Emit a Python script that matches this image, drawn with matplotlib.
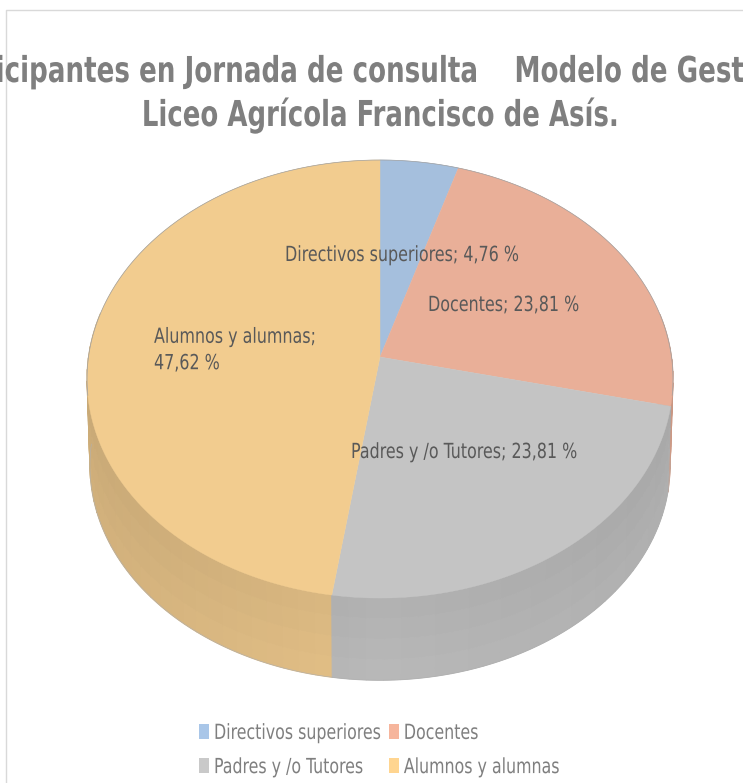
import matplotlib
matplotlib.use('Agg')
import matplotlib.pyplot as plt
from matplotlib.font_manager import FontProperties
from matplotlib.patches import Patch
from matplotlib.patheffects import AbstractPathEffect
from matplotlib.transforms import Affine2D
import numpy as np

categorias = ['Directivos superiores', 'Docentes', 'Padres y /o Tutores', 'Alumnos y alumnas']
valores = [4.76, 23.81, 23.81, 47.62]
etiquetas = ['Directivos superiores; 4,76 %', 'Docentes; 23,81 %',
             'Padres y /o Tutores; 23,81 %', 'Alumnos y alumnas;\n47,62 %']
colores = ['#A5BFDD', '#E9AF98', '#C4C4C4', '#F2CC8F']
colores_leyenda = ['#A9C6E8', '#F6B59C', '#C9C9C9', '#FFD590']
pos_etiquetas = [(285, 255), (428, 305), (351, 452), (154, 350)]

titulo1 = 'Participantes en Jornada de consulta    Modelo de Gestión'
titulo2 = 'Liceo Agrícola Francisco de Asís.'

cx, cy = 380, 357   # donde se juntan las tajadas
a, b, k = 291.5, 216.8, 0.1005   # perspectiva de la cara superior
prof = 87


class Angosto(AbstractPathEffect):
    # el grafico original esta comprimido a lo ancho
    def __init__(self, sx, centrado=False):
        super().__init__()
        self.sx = sx
        self.centrado = centrado

    def draw_path(self, renderer, gc, tpath, affine, rgbFace=None):
        c = 0
        if self.centrado:
            c = tpath.get_extents().x0 / 2 + tpath.get_extents().x1 / 2
        m = Affine2D().translate(-c, 0).scale(self.sx, 1).translate(c, 0)
        renderer.draw_path(gc, tpath, m + affine, rgbFace)


def arriba(t):
    # t en radianes, desde arriba en sentido horario
    u, v = np.sin(t), np.cos(t)
    w = 1 / (1 + k * v)
    return cx + a * u * w, cy - b * v * w


def abajo(t):
    u, v = np.sin(t), np.cos(t)
    w = 1 / (1 + k * v)
    return cx + 0.99 * a * u * w, cy + prof - 0.98 * b * v * w


def sombra(t):
    u = np.sin(t)
    if u < 0:
        return 0.91 + 0.08 * u
    return 0.91 - 0.05 * u


fig = plt.figure(figsize=(7.43, 7.83), dpi=100)
ax = fig.add_axes([0, 0, 1, 1])
ax.set_xlim(0, 743)
ax.set_ylim(783, 0)
ax.axis('off')

# borde del grafico
ax.plot([5.5, 5.5, 743], [783, 9.5, 9.5], color='#D9D9D9', lw=1)

limites = np.radians(np.cumsum([0] + valores) / sum(valores) * 360)

# costado
tiras = []
for i in range(4):
    n = max(2, int(np.degrees(limites[i + 1] - limites[i]) / 3))
    ts = np.linspace(limites[i], limites[i + 1], n + 1)
    for t0, t1 in zip(ts[:-1], ts[1:]):
        tiras.append((np.cos((t0 + t1) / 2), t0, t1, i))
tiras.sort(key=lambda f: -f[0])
capas = [0, 0.25, 0.5, 0.75, 1]
for v, t0, t1, i in tiras:
    if v > 0.2:
        continue
    tt = np.linspace(t0, t1, 4)
    x1, y1 = arriba(tt)
    x2, y2 = abajo(tt)
    for f0, f1 in zip(capas[:-1], capas[1:]):
        xa, ya = x1 + f0 * (x2 - x1), y1 + f0 * (y2 - y1)
        xc, yc = x1 + f1 * (x2 - x1), y1 + f1 * (y2 - y1)
        s = sombra((t0 + t1) / 2) + 0.04 * f0
        col = np.array(matplotlib.colors.to_rgb(colores[i])) * s
        ax.fill(np.r_[xa, xc[::-1]], np.r_[ya, yc[::-1]], color=col, lw=0.8)

tt = np.linspace(np.pi / 2, 3 * np.pi / 2, 200)
xb, yb = abajo(tt)
ax.plot(xb, yb, color='#B0B0B0', lw=0.4)

# cara superior
for i in range(4):
    tt = np.linspace(limites[i], limites[i + 1], 150)
    x, y = arriba(tt)
    ax.fill(np.r_[cx, x], np.r_[cy, y], color=colores[i], lw=0.3)
tt = np.radians(np.linspace(-100, 100, 300))
x, y = arriba(tt)
ax.plot(x, y, color='#A0A0A0', lw=0.5)

fuente = dict(family='DejaVu Sans', stretch='condensed')
for txt, (xt, yt) in zip(etiquetas, pos_etiquetas):
    ax.text(xt, yt, txt, fontsize=15, color='#595959', ha='left', va='center', linespacing=1.4,
            path_effects=[Angosto(0.85)], **fuente)

ax.text(361, 82, titulo1, fontsize=25.7, fontweight='bold', color='#7F7F7F', ha='center', va='baseline',
        path_effects=[Angosto(0.815, centrado=True)], **fuente)
ax.text(380, 126, titulo2, fontsize=25.7, fontweight='bold', color='#7F7F7F', ha='center', va='baseline',
        path_effects=[Angosto(0.81, centrado=True)], **fuente)

# el orden va por columnas
orden = [0, 2, 1, 3]
asas = [Patch(color=colores_leyenda[i], lw=0) for i in orden]
leg = ax.legend(asas, [categorias[i] for i in orden], ncols=2, loc='center left',
                bbox_to_anchor=(199 / 743, 1 - 750 / 783), borderaxespad=0, borderpad=0,
                frameon=False, handlelength=0.48, handleheight=0.72, handletextpad=0.24,
                columnspacing=-1.1, labelspacing=0.68, labelcolor='#7F7F7F',
                prop=FontProperties(size=15, **fuente))
for t in leg.get_texts():
    t.set_path_effects([Angosto(0.845)])

fig.savefig('out.png', dpi=100)
